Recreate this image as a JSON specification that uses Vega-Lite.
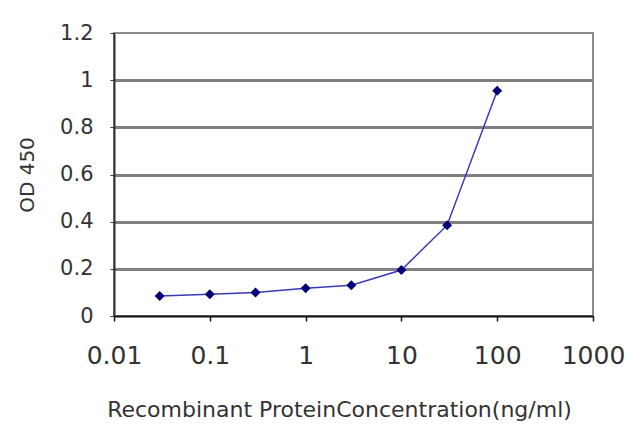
{
  "$schema": "https://vega.github.io/schema/vega-lite/v6.json",
  "width": 479,
  "height": 283,
  "autosize": {"type": "none"},
  "padding": {"left": 114, "top": 33, "right": 47, "bottom": 111},
  "background": "white",
  "config": {
    "view": {"stroke": "#8c8c8c", "strokeWidth": 2},
    "font": "DejaVu Sans",
    "axis": {"labelColor": "#333333", "titleColor": "#333333", "titleFontWeight": "normal"}
  },
  "data": {
    "values": [
      {"conc": 0.03, "od": 0.085},
      {"conc": 0.1, "od": 0.092},
      {"conc": 0.3, "od": 0.1},
      {"conc": 1, "od": 0.118},
      {"conc": 3, "od": 0.13},
      {"conc": 10, "od": 0.195},
      {"conc": 30, "od": 0.385},
      {"conc": 100, "od": 0.955}
    ]
  },
  "encoding": {
    "x": {
      "field": "conc",
      "type": "quantitative",
      "scale": {"type": "log", "domain": [0.01, 1000], "nice": false},
      "axis": {
        "values": [0.01, 0.1, 1, 10, 100, 1000],
        "format": "~g",
        "grid": false,
        "domainColor": "#111111",
        "domainWidth": 2,
        "tickColor": "#111111",
        "tickSize": 5,
        "tickWidth": 1.5,
        "labelFontSize": 25,
        "labelPadding": 22,
        "labelFlush": false,
        "title": "Recombinant ProteinConcentration(ng/ml)",
        "titleFontSize": 22,
        "titlePadding": 31,
        "titleX": 225,
        "titleAlign": "center",
        "titleAnchor": "start"
      }
    },
    "y": {
      "field": "od",
      "type": "quantitative",
      "scale": {"domain": [0, 1.2], "nice": false},
      "axis": {
        "values": [0, 0.2, 0.4, 0.6, 0.8, 1, 1.2],
        "format": "~g",
        "grid": true,
        "gridColor": "#808080",
        "gridWidth": {"condition": {"test": "datum.value == 0 || datum.value == 1.2", "value": 0}, "value": 3},
        "domainColor": "#333333",
        "domainWidth": 2,
        "tickColor": "#333333",
        "tickSize": 4,
        "labelFontSize": 21,
        "labelPadding": 17,
        "title": "OD 450",
        "titleFontSize": 20,
        "titlePadding": 22
      }
    }
  },
  "layer": [
    {"mark": {"type": "line", "color": "#3a3ab8", "strokeWidth": 1.5}},
    {"mark": {"type": "point", "shape": "diamond", "filled": true, "color": "#00007a", "size": 100, "opacity": 1}}
  ]
}
